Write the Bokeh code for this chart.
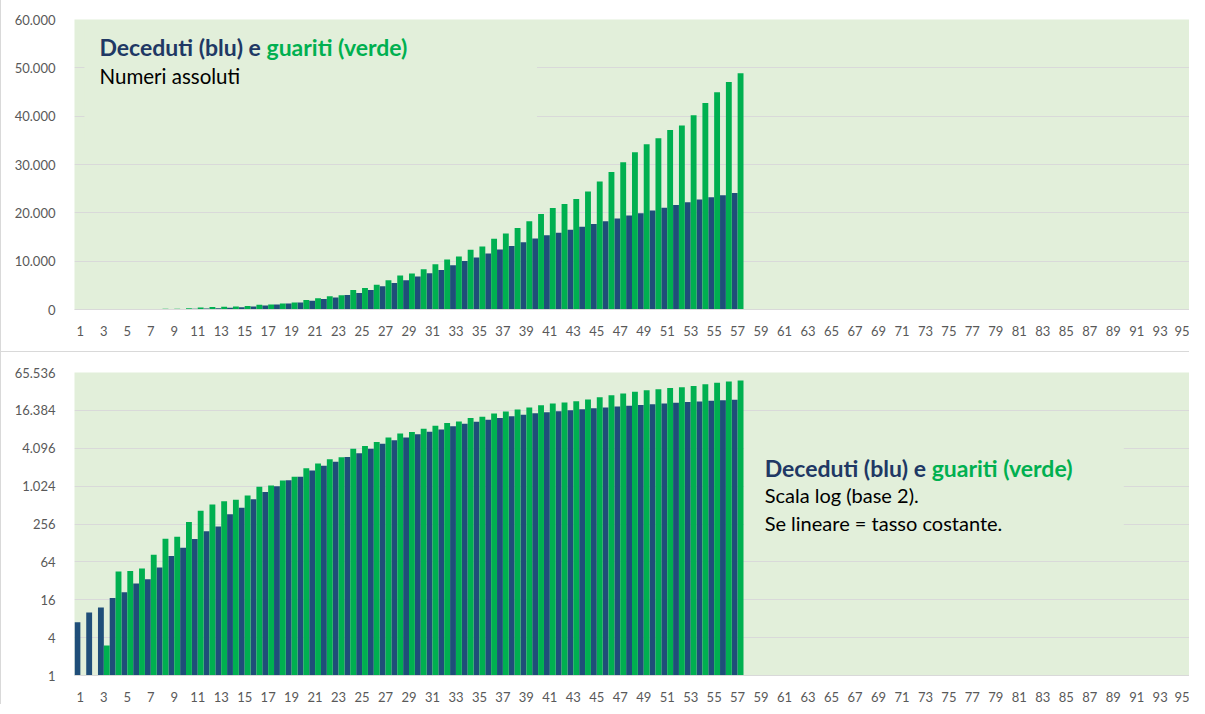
from bokeh.plotting import figure
from bokeh.layouts import column
from bokeh.models import Range1d, FixedTicker, CustomJSTickFormatter, Label, BoxAnnotation
from bokeh.embed import file_html
from bokeh.resources import INLINE

# ---------------- data ----------------
giorni = list(range(1, 58))
deceduti = [7, 10, 12, 17, 21, 29, 34, 52, 79, 107, 148, 197, 233, 366, 463, 631, 827,
            1016, 1266, 1441, 1809, 2158, 2503, 2978, 3405, 4032, 4825, 5476, 6077, 6820,
            7503, 8165, 9134, 10023, 10779, 11591, 12428, 13155, 13915, 14681, 15362,
            15887, 16523, 17127, 17669, 18279, 18849, 19468, 19899, 20465, 21067, 21645,
            22170, 22745, 23227, 23660, 24114]
guariti = [1, 1, 3, 45, 46, 50, 83, 149, 160, 276, 414, 523, 589, 622, 724, 1004, 1045,
           1258, 1439, 1966, 2335, 2749, 2941, 4025, 4440, 5129, 6072, 7024, 7432, 8326,
           9362, 10361, 10950, 12384, 13030, 14620, 15729, 16847, 18278, 19758, 20996,
           21815, 22837, 24392, 26491, 28470, 30455, 32534, 34211, 35435, 37130, 38092,
           40164, 42727, 44927, 47055, 48877]
n_categorie = 95
etichette_x = list(range(1, 96, 2))
tick_lineari = [0, 10000, 20000, 30000, 40000, 50000, 60000]
tick_log2 = [1, 4, 16, 64, 256, 1024, 4096, 16384, 65536]

# ---------------- style ----------------
BLU = "#1F4E79"
VERDE = "#00B050"
SFONDO = "#E2EFDA"
GRIGLIA = "#D9D9D9"
TESTO_ASSI = "#595959"
BLU_TITOLO = "#203864"
FONT = "Lato"

x_blu = [g - 0.25 for g in giorni]
x_verde = [g + 0.25 for g in giorni]

def formatter():
    return CustomJSTickFormatter(code=r"return Math.round(tick).toString().replace(/\B(?=(\d{3})+(?!\d))/g, '.');")

def stile(p, yticks):
    p.xaxis.ticker = FixedTicker(ticks=etichette_x)
    p.yaxis.ticker = FixedTicker(ticks=yticks)
    p.ygrid.ticker = FixedTicker(ticks=yticks)
    p.yaxis.formatter = formatter()
    p.xgrid.grid_line_color = None
    p.ygrid.grid_line_color = GRIGLIA
    p.ygrid.grid_line_width = 1
    p.xaxis.axis_line_color = GRIGLIA
    p.xaxis.axis_line_width = 1
    p.yaxis.axis_line_color = None
    for ax in (p.xaxis, p.yaxis):
        ax.major_tick_line_color = None
        ax.minor_tick_line_color = None
        ax.major_label_text_font = FONT
        ax.major_label_text_font_size = "13px"
        ax.major_label_text_color = TESTO_ASSI
    p.xaxis.major_label_standoff = 10
    p.yaxis.major_label_standoff = 13

def testo(p, x, y, s, colore, grassetto=False, dimensione="20px", dx=0):
    p.add_layout(Label(x=x, y=y, x_offset=dx, y_offset=7, text=s, text_font=FONT,
                       text_font_style="bold" if grassetto else "normal",
                       text_font_size=dimensione, text_color=colore,
                       text_baseline="alphabetic"))

# ---------------- top chart (linear) ----------------
p1 = figure(width=1189, height=352, output_backend="svg", toolbar_location=None,
            x_range=Range1d(0.5, n_categorie + 0.5), y_range=Range1d(0, 60000),
            min_border_left=64, min_border_right=0, min_border_top=19, min_border_bottom=43,
            background_fill_color=SFONDO, border_fill_color="white", outline_line_color=None,
            styles={"border-bottom": "1px solid #D9D9D9", "border-left": "1px solid #D9D9D9"})
stile(p1, tick_lineari)
p1.vbar(x=x_blu, top=deceduti, bottom=0, width=0.5, fill_color=BLU, line_color=None)
p1.vbar(x=x_verde, top=guariti, bottom=0, width=0.5, fill_color=VERDE, line_color=None)
p1.add_layout(BoxAnnotation(left=1.35, right=39.9, bottom=35000, top=59000,
                            fill_color=SFONDO, fill_alpha=1, line_color=None))
testo(p1, 2.63, 52759, "Deceduti (blu) e ", BLU_TITOLO, True, "23px")
testo(p1, 2.63, 52759, "guariti (verde)", VERDE, True, "23px", dx=167)
testo(p1, 2.63, 46759, "Numeri assoluti", "black", dimensione="20.5px")

# ---------------- bottom chart (log base 2) ----------------
p2 = figure(width=1189, height=352, output_backend="svg", toolbar_location=None,
            x_range=Range1d(0.5, n_categorie + 0.5), y_range=Range1d(1, 65536),
            y_axis_type="log",
            min_border_left=73, min_border_right=1, min_border_top=20, min_border_bottom=27,
            background_fill_color=SFONDO, border_fill_color="white", outline_line_color=None,
            styles={"border-left": "1px solid #D9D9D9"})
stile(p2, tick_log2)
p2.vbar(x=x_blu, top=deceduti, bottom=1, width=0.5, fill_color=BLU, line_color=None)
p2.vbar(x=x_verde, top=guariti, bottom=1, width=0.5, fill_color=VERDE, line_color=None)
p2.add_layout(BoxAnnotation(left=57.55, right=89.9, bottom=104, top=5840,
                            fill_color=SFONDO, fill_alpha=1, line_color=None))
testo(p2, 59.3, 1565, "Deceduti (blu) e ", BLU_TITOLO, True, "23px")
testo(p2, 59.3, 1565, "guariti (verde)", VERDE, True, "23px", dx=167)
testo(p2, 59.3, 583, "Scala log (base 2).", "black")
testo(p2, 59.3, 202, "Se lineare = tasso costante.", "black")

layout = column(p1, p2, spacing=0)
open("out.html", "w").write(file_html(layout, INLINE))
